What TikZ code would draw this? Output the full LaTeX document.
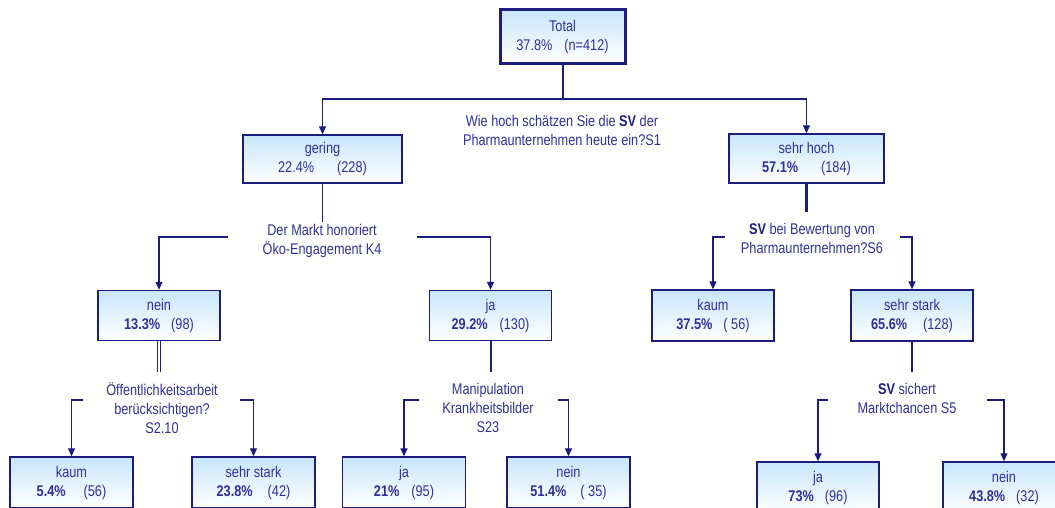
\documentclass[tikz,border=0pt]{standalone}
\usepackage{fontspec}
\setmainfont{Liberation Sans}[FakeStretch=0.82]
\usetikzlibrary{arrows.meta,shadings}
\definecolor{navy}{HTML}{1C1C7E}
\definecolor{txtblue}{HTML}{30309C}
\definecolor{boxtop}{HTML}{C8E6FC}
\tikzset{
  box/.style={draw=navy, line width=1.4pt, top color=boxtop, bottom color=white,
    minimum width=122pt, minimum height=50pt, inner sep=0pt, align=center,
    text=txtblue, font=\fontsize{15.5}{19}\selectfont},
  qtext/.style={align=center, inner sep=0pt, text=txtblue, font=\fontsize{15.5}{19}\selectfont},
  conn/.style={draw=navy, line width=1.3pt},
  stem/.style={draw=navy, line width=2pt},
  arr/.style={conn, -{Triangle[length=8pt,width=7pt]}},
}
\newcommand{\bsv}{\textbf{\textcolor{navy}{SV}}}
\begin{document}
\begin{tikzpicture}[x=1pt,y=-1pt]
\useasboundingbox (0,0) rectangle (1055,508);
\clip (0,0) rectangle (1055,508);
\fill[white] (0,0) rectangle (1055,508);
% level 1
\node[box, line width=3pt, minimum width=125pt, minimum height=54pt] (total) at (562.5,37) {Total\\37.8\%\hspace{12pt}(n=412)};
% level 2
\node[box, minimum width=159pt, minimum height=48pt] (gering) at (322.5,159) {gering\\22.4\%\hspace{23pt}(228)};
\node[box, minimum width=155pt, minimum height=49pt] (sehrhoch) at (806.5,158.5) {sehr hoch\\\textbf{57.1\%}\hspace{23pt}(184)};
\node[qtext] (q1) at (562,130) {Wie hoch schätzen Sie die \bsv{} der\\Pharmaunternehmen heute ein?S1};
% level 3
\node[box] (nein3) at (159,315.5) {nein\\\textbf{13.3\%}\hspace{11pt}(98)};
\node[box] (ja3) at (490.5,315.5) {ja\\\textbf{29.2\%}\hspace{12pt}(130)};
\node[box, minimum height=51pt] (kaum3) at (713,315.5) {kaum\\\textbf{37.5\%}\hspace{11pt}( 56)};
\node[box, minimum height=51pt] (stark3) at (912,315.5) {sehr stark\\\textbf{65.6\%}\hspace{16pt}(128)};
\node[qtext] (q2) at (322,241) {Der Markt honoriert\\Öko-Engagement K4};
\node[qtext] (q3) at (812,238.5) {\bsv{} bei Bewertung von\\Pharmaunternehmen?S6};
% level 4
\node[box, minimum width=123pt, minimum height=51pt] (kaum4) at (71.5,482.5) {kaum\\\textbf{5.4\%}\hspace{18pt}(56)};
\node[box, minimum width=123pt, minimum height=51pt] (stark4) at (253.5,482.5) {sehr stark\\\textbf{23.8\%}\hspace{15pt}(42)};
\node[box, minimum width=123pt, minimum height=51pt] (ja4) at (404,482.5) {ja\\\textbf{21\%}\hspace{12pt}(95)};
\node[box, minimum width=123pt, minimum height=51pt] (nein4) at (568.5,482.5) {nein\\\textbf{51.4\%}\hspace{14pt}( 35)};
\node[box, minimum width=122pt, minimum height=51pt] (ja5) at (818,487.5) {ja\\\textbf{73\%}\hspace{11pt}(96)};
\node[box, minimum width=122pt, minimum height=51pt] (nein5) at (1004,487.5) {nein\\\textbf{43.8\%}\hspace{11pt}(32)};
\node[qtext] (q4) at (162,408) {Öffentlichkeitsarbeit\\berücksichtigen?\\S2.10};
\node[qtext] (q5) at (488,408) {Manipulation\\Krankheitsbilder\\S23};
\node[qtext] (q6) at (907,398.5) {\bsv{} sichert\\Marktchancen S5};
% coordinates
\coordinate (h1) at (562.5,99);
\coordinate (g1) at (322.5,222);
\coordinate (s1) at (806.5,212);
\coordinate (b2l) at (228,237);
\coordinate (b2r) at (417,237);
\coordinate (b3l) at (725,237);
\coordinate (b3r) at (900,237);
\coordinate (n1) at (159,372);
\coordinate (j1) at (490.5,372);
\coordinate (k1) at (912,372);
\coordinate (b4l) at (83,400);
\coordinate (b4r) at (240,400);
\coordinate (b5l) at (419,400);
\coordinate (b5r) at (558,400);
\coordinate (b6l) at (828,400);
\coordinate (b6r) at (987,400);
% connectors
\draw[stem] (total.south) -- (h1);
\draw[arr] (h1) -| (gering.north);
\draw[arr] (h1) -| (sehrhoch.north);
\draw[conn] (gering.south) -- (g1);
\draw[stem, line width=3pt] (sehrhoch.south) -- (s1);
\draw[arr] (b2l) -| (nein3.north);
\draw[arr] (b2r) -| (ja3.north);
\draw[arr] (b3l) -| (kaum3.north);
\draw[arr] (b3r) -| (stark3.north);
\draw[draw=navy, line width=0.9pt, double=white, double distance=1.3pt] (nein3.south) -- (n1);
\draw[stem] (ja3.south) -- (j1);
\draw[stem] (stark3.south) -- (k1);
\draw[arr] (b4l) -| (kaum4.north);
\draw[arr] (b4r) -| (stark4.north);
\draw[arr] (b5l) -| (ja4.north);
\draw[arr] (b5r) -| (nein4.north);
\draw[arr] (b6l) -| (ja5.north);
\draw[arr] (b6r) -| (nein5.north);
\end{tikzpicture}
\end{document}
